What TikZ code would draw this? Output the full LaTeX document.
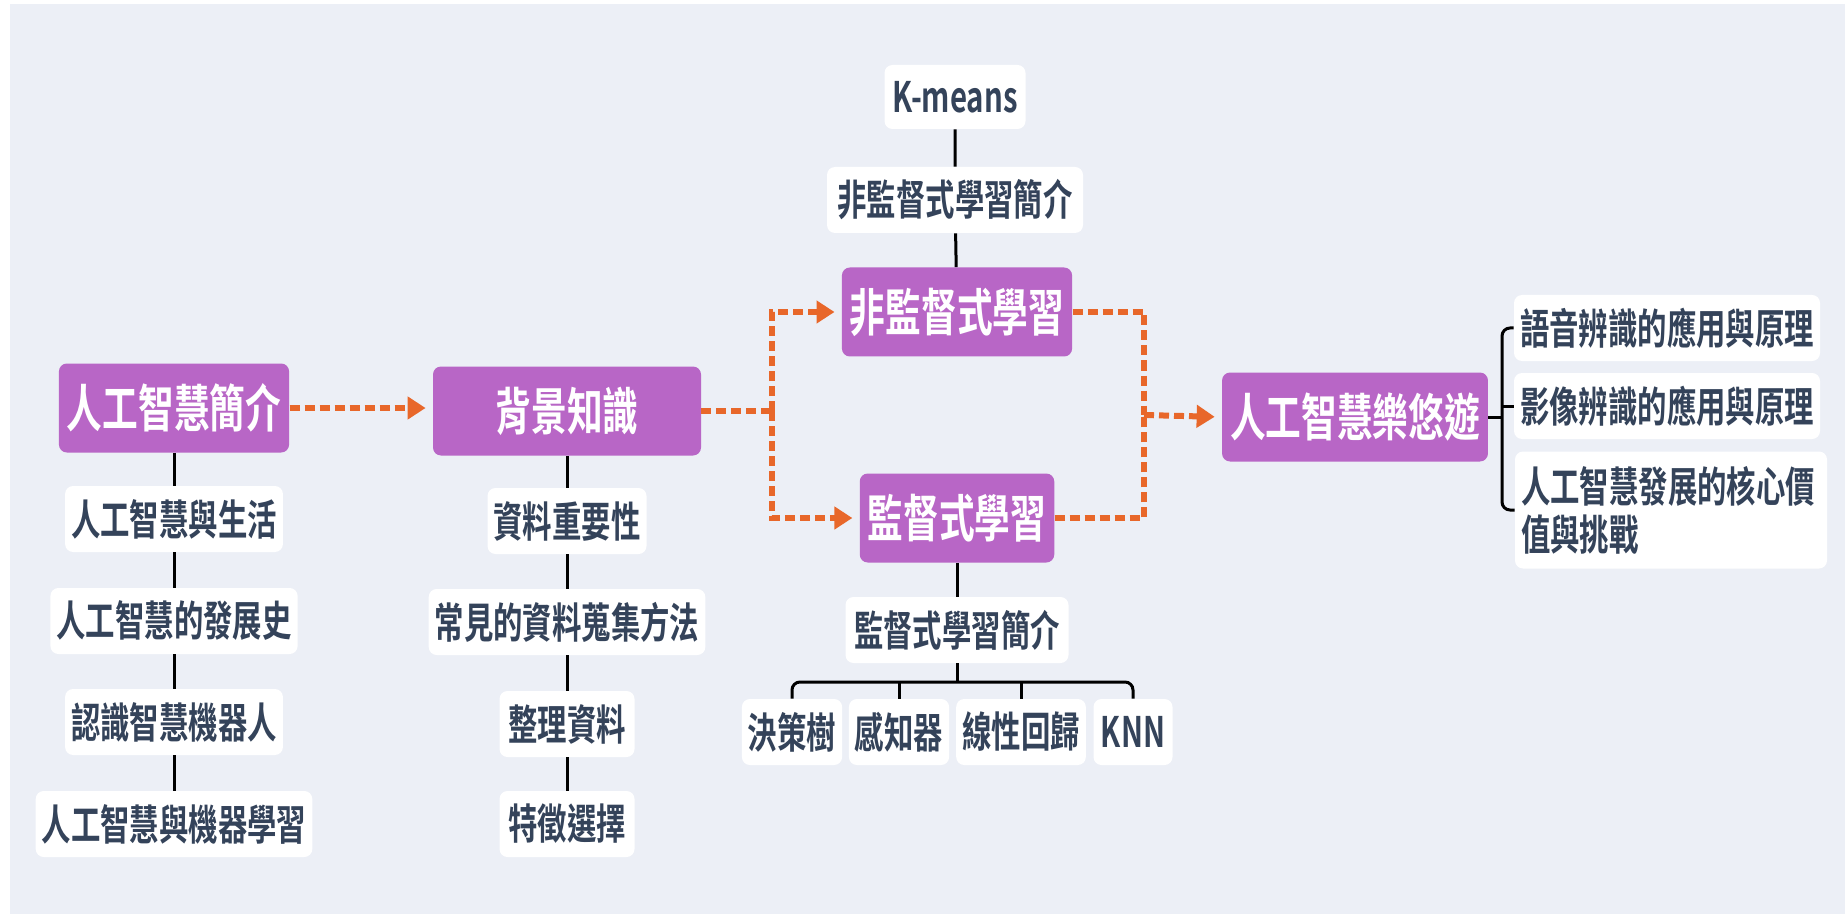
\documentclass[tikz,border=0pt]{standalone}
\usepackage{fontspec}
\setmainfont{Noto Sans CJK TC}[BoldFont={* Bold},FakeStretch=0.70]
\usetikzlibrary{arrows.meta}
\definecolor{bgcol}{HTML}{ECEFF6}
\definecolor{topicfill}{HTML}{B866C6}
\definecolor{flowcol}{HTML}{E8672A}
\definecolor{leafcol}{HTML}{34435A}
\newcommand{\topicfont}{\fontsize{25.5}{30}\selectfont\bfseries}
\newcommand{\leaffont}{\fontsize{21}{24}\selectfont\bfseries}
\tikzset{
  topic/.style={rounded corners=4pt,fill=topicfill,text=white,font=\topicfont,
    minimum height=44.5pt,inner xsep=4pt,inner ysep=0pt},
  leaf/.style={rounded corners=4pt,fill=white,text=leafcol,font=\leaffont,
    minimum height=33pt,inner xsep=3pt,inner ysep=0pt},
  tree/.style={line width=1.5pt,black},
  flowline/.style={line width=3pt,flowcol,dash pattern=on 5pt off 2.5pt},
  flow/.style={flowline,-{Triangle[length=9pt,width=11pt]},shorten >=3.5pt}
}
\begin{document}
\begin{tikzpicture}[x=0.5pt,y=-0.5pt]
\useasboundingbox (0,0) rectangle (1845,914);
\fill[white] (0,0) rectangle (1845,914);
\fill[bgcol] (10,4) rectangle (1845,914);

% main topics
\node[topic] (intro) at (174,408) {人工智慧簡介};
\node[topic,minimum width=134pt] (background) at (567,411) {背景知識};
\node[topic] (unsup) at (957,312) {非監督式學習};
\node[topic] (sup) at (957,518) {監督式學習};
\node[topic] (fun) at (1355,417) {人工智慧樂悠遊};

\node[leaf] (introA) at (174,519) {人工智慧與生活};
\node[leaf] (introB) at (174,621) {人工智慧的發展史};
\node[leaf] (introC) at (174,722) {認識智慧機器人};
\node[leaf] (introD) at (174,824) {人工智慧與機器學習};

\node[leaf] (bgA) at (567,521) {資料重要性};
\node[leaf] (bgB) at (567,622) {常見的資料蒐集方法};
\node[leaf,minimum width=67.5pt] (bgC) at (567,724) {整理資料};
\node[leaf,minimum width=67.5pt] (bgD) at (567,824) {特徵選擇};

\node[leaf,minimum width=70.5pt,minimum height=32pt] (kmeans) at (955,97) {K-means};
\node[leaf,minimum width=128pt] (unsupintro) at (955,200) {非監督式學習簡介};

\node[leaf,minimum width=111.5pt] (supintro) at (957,630) {監督式學習簡介};
\node[leaf] (tree) at (792,732) {決策樹};
\node[leaf] (percep) at (899,732) {感知器};
\node[leaf] (linreg) at (1021,732) {線性回歸};
\node[leaf,minimum width=39.5pt] (knn) at (1133,732) {KNN};

\node[leaf,minimum width=152.5pt] (speech) at (1667,328) {語音辨識的應用與原理};
\node[leaf,minimum width=152.5pt] (image) at (1667,406) {影像辨識的應用與原理};
\node[leaf,text width=150pt,minimum height=58.5pt,align=left] (value) at (1671,510) {人工智慧發展的核心價\\值與挑戰};

\coordinate (split) at (772,411);
\coordinate (merge) at (1144,415);
\coordinate (supjoin) at (957,682);
\coordinate (funjoin) at (1502,417);

\begin{scope}[tree]
\draw (intro) -- (introA) -- (introB) -- (introC) -- (introD);
\draw (background) -- (bgA) -- (bgB) -- (bgC) -- (bgD);
\draw (kmeans) -- (unsupintro) -- (unsup);
\draw (sup) -- (supintro);
\draw (supintro.south) -- (supjoin);
\draw[rounded corners=4pt] (tree.north) |- (supjoin) -| (knn.north);
\draw (percep.north) -- (percep.north |- supjoin);
\draw (linreg.north) -- (linreg.north |- supjoin);
\draw (fun.east) -- (funjoin);
\draw[rounded corners=4pt] (speech.west) -| (funjoin) |- (value.west);
\draw (image.west) -- (image.west -| funjoin);
\end{scope}

\draw[flow] (intro) -- (intro -| background.west);
\draw[flowline] (background.east) -- (split);
\draw[flow] (split) |- (unsup.west);
\draw[flow] (split) |- (sup.west);
\draw[flowline] (unsup.east) -| (merge);
\draw[flowline] (sup.east) -| (merge);
\draw[flow] (merge) -- (fun.west);
\end{tikzpicture}
\end{document}
